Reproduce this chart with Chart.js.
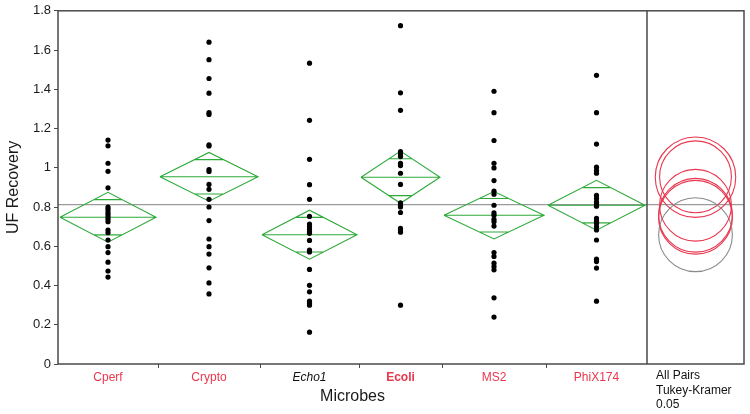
<!DOCTYPE html>
<html>
<head>
<meta charset="utf-8">
<script src="https://cdn.jsdelivr.net/npm/chart.js@4/dist/chart.umd.min.js"></script>
<style>
html,body{margin:0;padding:0;background:#fff;}
canvas{display:block;}
</style>
</head>
<body>
<canvas id="c" width="750" height="414"></canvas>
<script>
// ---- data ----
const categories = ['Cperf', 'Crypto', 'Echo1', 'Ecoli', 'MS2', 'PhiX174'];
const cperf   = [1.141, 1.112, 1.023, 0.982, 0.898, 0.800, 0.789, 0.775, 0.763, 0.750, 0.738, 0.725, 0.683, 0.669, 0.632, 0.598, 0.568, 0.519, 0.474, 0.443];
const crypto  = [1.640, 1.551, 1.455, 1.380, 1.281, 1.272, 1.117, 1.111, 0.991, 0.981, 0.915, 0.890, 0.839, 0.800, 0.731, 0.637, 0.598, 0.560, 0.490, 0.413, 0.357];
const echo1   = [1.533, 1.242, 1.043, 0.914, 0.839, 0.752, 0.713, 0.699, 0.686, 0.674, 0.666, 0.630, 0.581, 0.571, 0.482, 0.401, 0.368, 0.320, 0.308, 0.300, 0.162];
const ecoli   = [1.724, 1.382, 1.293, 1.082, 1.070, 1.057, 1.023, 1.011, 0.972, 0.915, 0.821, 0.809, 0.800, 0.772, 0.691, 0.683, 0.672, 0.300];
const ms2     = [1.390, 1.281, 1.139, 1.023, 0.999, 0.935, 0.881, 0.865, 0.809, 0.770, 0.758, 0.737, 0.725, 0.703, 0.568, 0.548, 0.514, 0.497, 0.480, 0.337, 0.239];
const phix174 = [1.471, 1.281, 1.121, 1.003, 0.986, 0.972, 0.859, 0.843, 0.826, 0.814, 0.804, 0.742, 0.728, 0.716, 0.699, 0.683, 0.632, 0.534, 0.522, 0.489, 0.320];
const groupValues = [cperf, crypto, echo1, ecoli, ms2, phix174];

const groupMeans   = [0.748, 0.954, 0.659, 0.952, 0.758, 0.809];
const ciHalfWidth  = [0.127, 0.124, 0.125, 0.133, 0.121, 0.127];
const circleRadius = [0.188, 0.183, 0.188, 0.205, 0.188, 0.183];
const grandMean = 0.812;

const yTickValues = [0, 0.2, 0.4, 0.6, 0.8, 1, 1.2, 1.4, 1.6, 1.8];
const testLabel = ['All Pairs', 'Tukey-Kramer', '0.05'];
const xTitle = 'Microbes';
const yTitle = 'UF Recovery';

// ---- layout / style (x axis in layout units; group widths follow JMP) ----
const bounds = [0, 100, 202, 301, 384, 488, 589, 686];
const RED = '#e8374f';
const GREEN = '#2eaa3a';
const labelColors = [RED, RED, '#111', RED, RED, RED];
const labelStyles = ['normal', 'normal', 'italic', 'normal', 'normal', 'normal'];
const labelWeights = ['normal', 'normal', 'normal', 'bold', 'normal', 'normal'];
const circleColors = [RED, RED, '#8a8a8a', RED, RED, RED];
const FONT = '"Liberation Sans", Arial, sans-serif';

const centers = categories.map((_, i) => (bounds[i] + bounds[i + 1]) / 2);
const panelCenter = (bounds[6] + bounds[7]) / 2;

// points
const pointData = [];
groupValues.forEach((vals, i) => vals.forEach(v => pointData.push({x: centers[i], y: v})));

// means diamonds
const diamondData = [];
groupMeans.forEach((m, i) => {
  const L = bounds[i] + 2, R = bounds[i + 1] - 2, C = centers[i];
  const h = ciHalfWidth[i], o = h / Math.SQRT2;
  const w = (R - L) / 2 * (1 - 1 / Math.SQRT2);
  diamondData.push({x: L, y: m}, {x: C, y: m + h}, {x: R, y: m}, {x: C, y: m - h}, {x: L, y: m}, {x: C, y: null});
  diamondData.push({x: L, y: m}, {x: R, y: m}, {x: C, y: null});
  diamondData.push({x: C - w, y: m + o}, {x: C + w, y: m + o}, {x: C, y: null});
  diamondData.push({x: C - w, y: m - o}, {x: C + w, y: m - o}, {x: C, y: null});
});

const circleData = groupMeans.map(m => ({x: panelCenter, y: m}));

const framePlugin = {
  id: 'frame',
  afterDraw(chart) {
    const {ctx, chartArea: a, scales: {x}} = chart;
    ctx.save();
    ctx.strokeStyle = '#4a4a4a';
    ctx.lineWidth = 1.5;
    ctx.strokeRect(a.left, a.top, a.right - a.left, a.bottom - a.top);
    const sx = x.getPixelForValue(bounds[6]);
    ctx.beginPath();
    ctx.moveTo(sx, a.top); ctx.lineTo(sx, a.bottom);
    ctx.stroke();
    ctx.lineWidth = 1;
    ctx.beginPath();
    for (let i = 1; i < 6; i++) {
      const px = Math.round(x.getPixelForValue(bounds[i])) + 0.5;
      ctx.moveTo(px, a.bottom); ctx.lineTo(px, a.bottom + 4);
    }
    ctx.stroke();
    // x title centred under the group panel
    ctx.fillStyle = '#1a1a1a';
    ctx.font = '16px ' + FONT;
    ctx.textAlign = 'center';
    ctx.textBaseline = 'middle';
    const mid = (x.getPixelForValue(bounds[0]) + x.getPixelForValue(bounds[6])) / 2;
    ctx.fillText(xTitle, mid, a.bottom + 33);
    // test label
    ctx.font = '12px ' + FONT;
    ctx.textAlign = 'left';
    ctx.fillStyle = '#111';
    testLabel.forEach((t, i) => ctx.fillText(t, sx + 9, a.bottom + 12 + i * 14.5));
    ctx.restore();
  }
};

new Chart(document.getElementById('c'), {
  type: 'scatter',
  data: {
    datasets: [
      {
        label: 'points', data: pointData, order: 0,
        pointRadius: 2.6, pointBackgroundColor: '#000', pointBorderWidth: 0, showLine: false
      },
      {
        label: 'diamonds', data: diamondData, order: 1, showLine: true, spanGaps: false,
        borderColor: GREEN, borderWidth: 1.1, pointRadius: 0, fill: false
      },
      {
        label: 'circles', data: circleData, order: 1, showLine: false,
        pointStyle: 'circle',
        pointBackgroundColor: 'rgba(0,0,0,0)',
        pointBorderColor: ctx => circleColors[ctx.dataIndex],
        pointBorderWidth: 1.1,
        pointRadius: ctx => {
          const y = ctx.chart.scales.y;
          return Math.abs(y.getPixelForValue(0) - y.getPixelForValue(circleRadius[ctx.dataIndex]));
        }
      },
      {
        label: 'grand mean', data: [{x: bounds[0], y: grandMean}, {x: bounds[7], y: grandMean}], order: 2,
        showLine: true, borderColor: '#9a9a9a', borderWidth: 1.2, pointRadius: 0
      }
    ]
  },
  options: {
    responsive: false,
    animation: false,
    devicePixelRatio: 1,
    layout: {padding: {top: 9, right: 6, left: 0, bottom: 0}},
    plugins: {legend: {display: false}, tooltip: {enabled: false}},
    scales: {
      x: {
        type: 'linear', min: bounds[0], max: bounds[7],
        afterBuildTicks: s => { s.ticks = centers.map(v => ({value: v})); },
        afterFit: s => { s.height = 50; },
        grid: {display: false, drawTicks: false},
        border: {display: false},
        ticks: {
          autoSkip: false, maxRotation: 0, padding: 6,
          callback: (v, i) => categories[i],
          color: c => labelColors[c.index],
          font: c => ({family: FONT, size: 12, style: labelStyles[c.index], weight: labelWeights[c.index]})
        }
      },
      y: {
        min: 0, max: 1.8,
        afterBuildTicks: s => { s.ticks = yTickValues.map(v => ({value: v})); },
        afterFit: s => { s.width = 58; },
        grid: {drawOnChartArea: false, drawTicks: true, tickLength: 4, color: '#4a4a4a', lineWidth: 1},
        border: {display: false},
        ticks: {
          padding: 3, color: '#1a1a1a',
          font: {family: FONT, size: 13},
          callback: v => String(v)
        },
        title: {display: true, text: yTitle, color: '#1a1a1a', font: {family: FONT, size: 16}, padding: {top: 4, bottom: 0}}
      }
    }
  },
  plugins: [framePlugin]
});
</script>
</body>
</html>
